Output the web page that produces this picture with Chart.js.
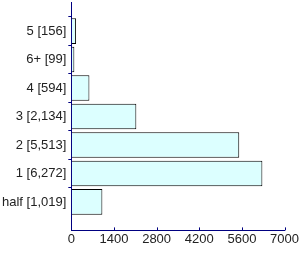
<!DOCTYPE html>
<html>
<head>
<meta charset="utf-8">
<script src="https://cdn.jsdelivr.net/npm/chart.js@4"></script>
<style>
  html, body { margin: 0; padding: 0; background: #fff; }
  #wrap { width: 300px; height: 254px; }
</style>
</head>
<body>
<div id="wrap"><canvas id="chart" width="300" height="254"></canvas></div>
<script>
// categories top to bottom, with counts shown in labels
const categories = ['5 [156]', '6+ [99]', '4 [594]', '3 [2,134]', '2 [5,513]', '1 [6,272]', 'half [1,019]'];
const counts = [156, 99, 594, 2134, 5513, 6272, 1019];
const xTicks = [0, 1400, 2800, 4200, 5600, 7000];

const axisColor = '#000080';

// blank slot at each end gives the half-band padding seen in the picture
const labels = [''].concat(categories, ['']);
const values = [null].concat(counts, [null]);

Chart.defaults.font.family = '"Liberation Sans", Arial, sans-serif';
Chart.defaults.font.size = 13;
Chart.defaults.color = '#222';

const isBlank = (i) => i === 0 || i === labels.length - 1;

// small inward tick marks on the value axis
const innerTicks = {
    id: 'innerTicks',
    afterDraw(chart) {
        const x = chart.scales.x;
        const ctx = chart.ctx;
        ctx.save();
        ctx.strokeStyle = axisColor;
        ctx.lineWidth = 1;
        xTicks.forEach(v => {
            const px = Math.round(x.getPixelForValue(v)) + 0.5;
            ctx.beginPath();
            ctx.moveTo(px, x.top);
            ctx.lineTo(px, x.top - 3);
            ctx.stroke();
        });
        ctx.restore();
    }
};

new Chart(document.getElementById('chart').getContext('2d'), {
    type: 'bar',
    data: {
        labels: labels,
        datasets: [{
            data: values,
            backgroundColor: '#dcffff',
            borderColor: '#000',
            borderWidth: 1,
            barPercentage: 0.9,
            categoryPercentage: 1
        }]
    },
    options: {
        indexAxis: 'y',
        responsive: false,
        animation: false,
        layout: { padding: { top: 0, right: 12, bottom: 6, left: 0 } },
        plugins: { legend: { display: false }, tooltip: { enabled: false } },
        scales: {
            y: {
                type: 'category',
                offset: false,
                grid: {
                    drawOnChartArea: false,
                    tickLength: 3,
                    color: (ctx) => isBlank(ctx.index) ? 'rgba(0,0,0,0)' : axisColor
                },
                border: { color: axisColor, width: 1 },
                ticks: {
                    padding: 2,
                    autoSkip: false,
                    color: '#222',
                    font: (ctx) => isBlank(ctx.index) ? { size: 1 } : { size: 13 }
                }
            },
            x: {
                min: 0,
                max: 7000,
                afterBuildTicks: (scale) => { scale.ticks = xTicks.map(v => ({ value: v })); },
                grid: { display: true, drawOnChartArea: false, drawTicks: false, color: axisColor },
                border: { color: axisColor, width: 1 },
                ticks: { padding: 1, color: '#222', maxRotation: 0, callback: (v) => String(v) }
            }
        }
    },
    plugins: [innerTicks]
});
</script>
</body>
</html>
